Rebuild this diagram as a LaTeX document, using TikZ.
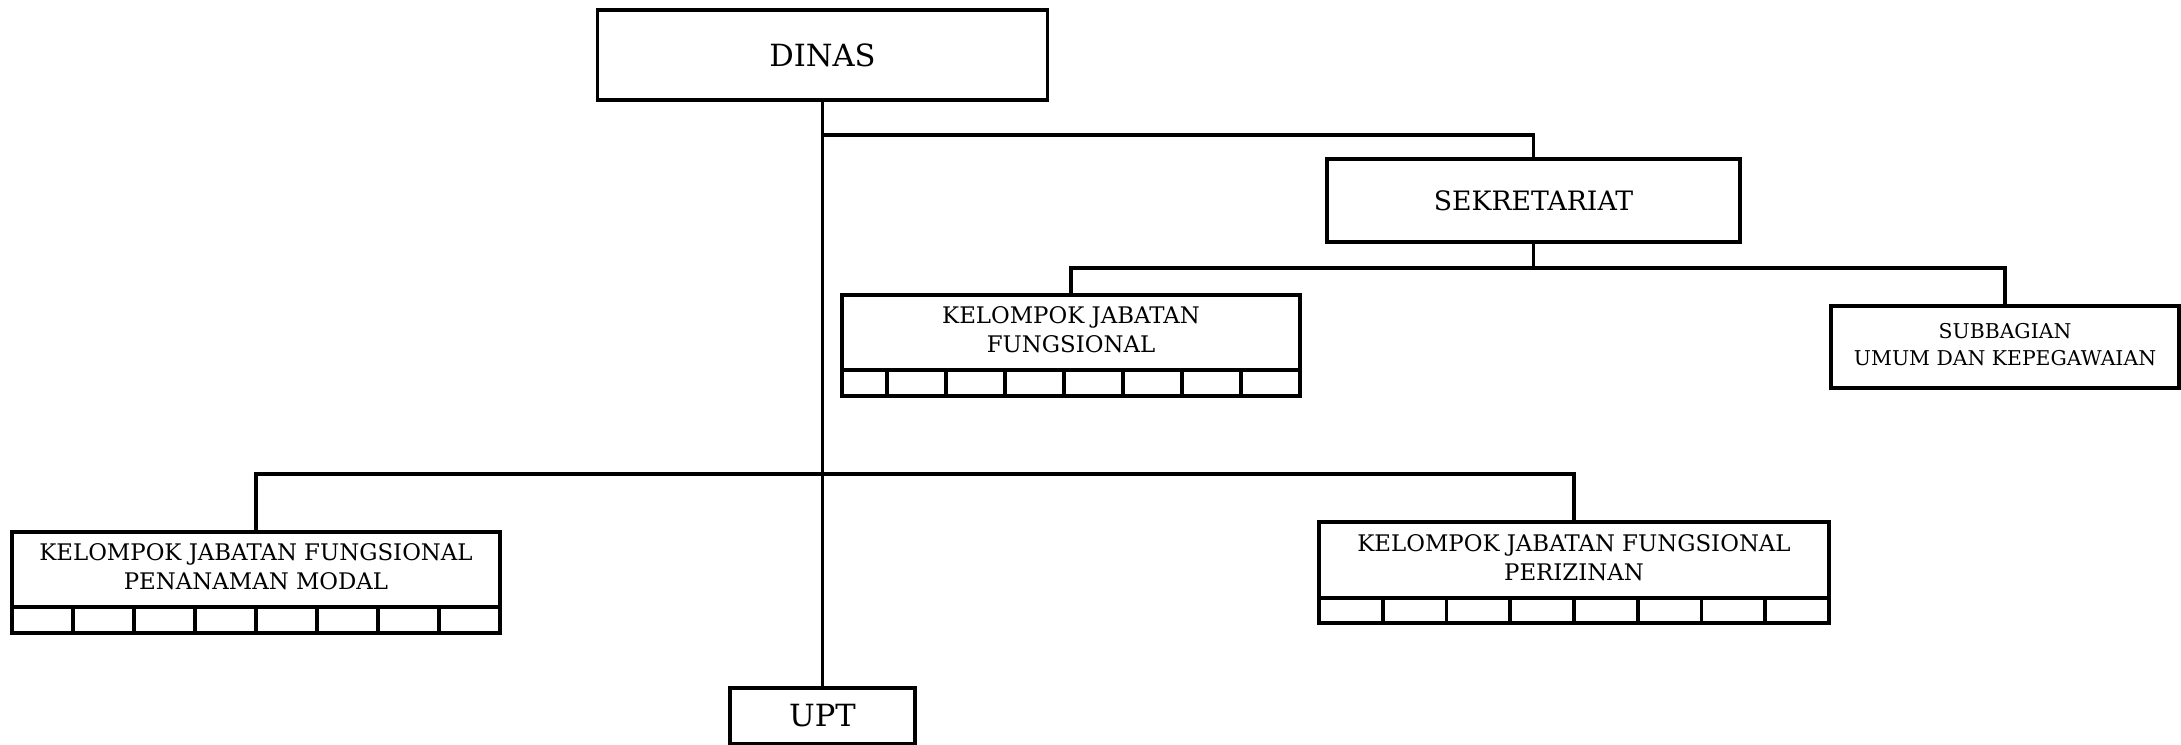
\documentclass[tikz,border=0pt]{standalone}
\usepackage{fontspec}
\setmainfont{DejaVu Serif}
\begin{document}
\begin{tikzpicture}[
  unit/.style={draw,shape=rectangle,line width=1.1pt,inner sep=0pt,outer sep=0pt},
  link/.style={line width=1pt},
  cell/.style={line width=1.1pt},
  big/.style={font=\fontsize{8.7}{10}\selectfont},
  mid/.style={font=\fontsize{7.6}{9}\selectfont},
  small/.style={font=\fontsize{6.5}{8.3}\selectfont},
  tiny/.style={font=\fontsize{5.8}{7.6}\selectfont}]

  \useasboundingbox (0,0) rectangle (21.81,-7.44);

  \draw (8.225,-0.55) node [unit,big,minimum width=4.5cm,minimum height=0.9cm] (dinas)
  {DINAS};

  \draw (15.335,-2.005) node [unit,mid,minimum width=4.13cm,minimum height=0.83cm] (sekretariat)
  {SEKRETARIAT};

  \draw (10.71,-3.325) node [unit,small,minimum width=4.58cm,minimum height=0.75cm] (kjf)
  {\begin{tabular}{@{}c@{}}KELOMPOK JABATAN\\FUNGSIONAL\end{tabular}};

  \draw (20.05,-3.47) node [unit,tiny,minimum width=3.48cm,minimum height=0.82cm] (subbag)
  {\begin{tabular}{@{}c@{}}SUBBAGIAN\\UMUM DAN KEPEGAWAIAN\end{tabular}};

  \draw (2.56,-5.695) node [unit,small,minimum width=4.88cm,minimum height=0.75cm] (kjfmodal)
  {\begin{tabular}{@{}c@{}}KELOMPOK JABATAN FUNGSIONAL\\PENANAMAN MODAL\end{tabular}};

  \draw (15.74,-5.60) node [unit,small,minimum width=5.10cm,minimum height=0.76cm] (kjfizin)
  {\begin{tabular}{@{}c@{}}KELOMPOK JABATAN FUNGSIONAL\\PERIZINAN\end{tabular}};

  \draw (8.225,-7.16) node [unit,big,minimum width=1.85cm,minimum height=0.56cm] (upt)
  {UPT};

  % rows of cells under the functional groups
  \draw[cell] (kjf.south west) rectangle ++(4.58,-0.26);
  \foreach \i in {0,...,6}
    \draw[cell] (kjf.south west) ++(0.45+\i*0.59,0) -- ++(0,-0.26);
  \draw[cell] (kjfmodal.south west) rectangle ++(4.88,-0.26);
  \foreach \i in {1,...,7}
    \draw[cell] (kjfmodal.south west) ++(\i*0.61,0) -- ++(0,-0.26);
  \draw[cell] (kjfizin.south west) rectangle ++(5.10,-0.25);
  \foreach \i in {1,...,7}
    \draw[cell] (kjfizin.south west) ++(\i*0.6375,0) -- ++(0,-0.25);

  \coordinate (busA) at (8.225,-1.35);
  \coordinate (busB) at (15.335,-2.68);
  \coordinate (busC) at (8.225,-4.74);

  \draw[link] (dinas.south) -- (upt.north);
  \draw[link] (busA) -| (sekretariat.north);
  \draw[link] (sekretariat.south) -- (busB);
  \draw[link] (kjf.north) |- (busB) -| (subbag.north);
  \draw[link] (kjfmodal.north) |- (busC) -| (kjfizin.north);

\end{tikzpicture}
\end{document}
